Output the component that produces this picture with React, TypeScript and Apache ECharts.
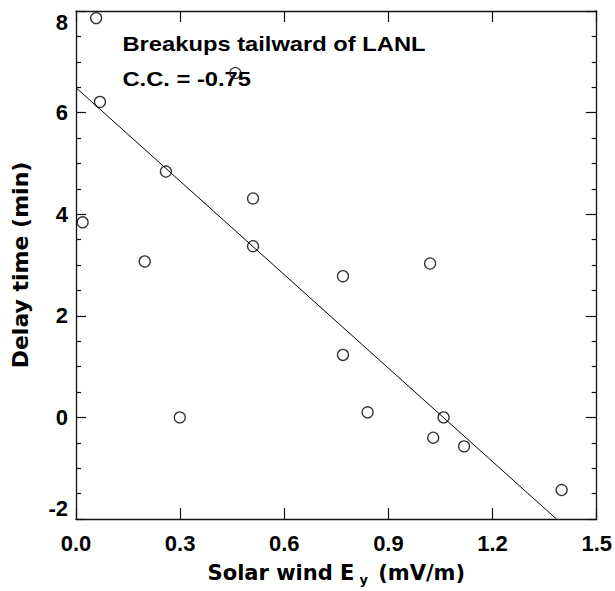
import React, { useEffect, useRef } from "react";
import * as echarts from "echarts";

// Scatter data
const solarWindEy = [0.058, 0.069, 0.019, 0.259, 0.198, 0.51, 0.51, 0.459, 0.769, 1.02, 0.299, 0.769, 0.84, 1.059, 1.029, 1.118, 1.399];
const delayTime = [7.86, 6.21, 3.84, 4.84, 3.07, 4.31, 3.37, 6.78, 2.78, 3.03, 0.0, 1.23, 0.1, 0.0, -0.4, -0.57, -1.43];

// Regression line end points
const fitLineEy = [0, 1.384];
const fitLineDelay = [6.49, -2];

// Axis ranges / ticks
const xRange = [0, 1.5];
const xStep = 0.3;
const yRange = [-2, 8];
const yStep = 2;

const annotationLines = ["Breakups tailward of LANL", "C.C. = -0.75"];

const ARIAL = '"Liberation Sans", Arial, Helvetica, sans-serif';
const DEJAVU = '"DejaVu Sans", "Liberation Sans", Arial, sans-serif';

export default function App() {
  const ref = useRef<HTMLDivElement>(null);

  useEffect(() => {
    if (!ref.current) return;
    const chart = echarts.init(ref.current, null, { renderer: "svg" });

    const axisLine = { show: true, onZero: false, lineStyle: { color: "#111", width: 1.3 } };

    const option: any = {
      animation: false,
      backgroundColor: "#fff",
      grid: { left: 76, top: 11, width: 521.7, height: 513, containLabel: false },
      xAxis: [
        {
          type: "value",
          position: "bottom",
          min: xRange[0],
          max: xRange[1],
          interval: xStep,
          axisLine,
          axisTick: { show: true, inside: true, length: 11, lineStyle: { color: "#111", width: 1.2 } },
          axisLabel: {
            show: true,
            margin: 13,
            fontSize: 22,
            fontWeight: "bold",
            fontFamily: ARIAL,
            color: "#000",
            formatter: (v: number) => v.toFixed(1),
          },
          splitLine: { show: false },
          name: "Solar wind E{sub|y} (mV/m)",
          nameLocation: "middle",
          nameGap: 41,
          nameTextStyle: {
            fontSize: 21,
            fontWeight: "bold",
            fontFamily: DEJAVU,
            color: "#000",
            lineHeight: 26,
            rich: {
              sub: {
                fontSize: 13,
                fontWeight: "bold",
                fontFamily: DEJAVU,
                color: "#000",
                verticalAlign: "bottom",
                lineHeight: 14,
                padding: [0, 3, 0, 5],
              },
            },
          },
        },
        {
          type: "value",
          position: "top",
          min: xRange[0],
          max: xRange[1],
          interval: xStep,
          axisLine,
          axisTick: { show: true, inside: true, length: 11, lineStyle: { color: "#111", width: 1.2 } },
          axisLabel: { show: false },
          splitLine: { show: false },
        },
      ],
      yAxis: [
        {
          type: "value",
          position: "left",
          min: yRange[0],
          max: yRange[1],
          interval: yStep,
          axisLine,
          axisTick: { show: true, inside: true, length: 10, lineStyle: { color: "#111", width: 1.2 } },
          minorTick: { show: true, splitNumber: 4, length: 5, lineStyle: { color: "#111", width: 1.2 } },
          axisLabel: {
            show: true,
            margin: 8,
            fontSize: 22,
            fontWeight: "bold",
            fontFamily: ARIAL,
            color: "#000",
            verticalAlignMinLabel: "bottom",
            verticalAlignMaxLabel: "top",
          },
          splitLine: { show: false },
          minorSplitLine: { show: false },
          name: "Delay time (min)",
          nameLocation: "middle",
          nameGap: 45,
          nameTextStyle: { fontSize: 22, fontWeight: "bold", fontFamily: DEJAVU, color: "#000" },
        },
        {
          type: "value",
          position: "right",
          min: yRange[0],
          max: yRange[1],
          interval: yStep,
          axisLine,
          axisTick: { show: true, inside: true, length: 11, lineStyle: { color: "#111", width: 1.2 } },
          minorTick: { show: true, splitNumber: 4, length: 5, lineStyle: { color: "#111", width: 1.2 } },
          axisLabel: { show: false },
          splitLine: { show: false },
          minorSplitLine: { show: false },
        },
      ],
      series: [
        {
          type: "line",
          xAxisIndex: 0,
          yAxisIndex: 0,
          data: fitLineEy.map((x, i) => [x, fitLineDelay[i]]),
          showSymbol: false,
          symbol: "none",
          lineStyle: { color: "#000", width: 1 },
          silent: true,
          z: 2,
        },
        {
          type: "scatter",
          xAxisIndex: 0,
          yAxisIndex: 0,
          data: solarWindEy.map((x, i) => [x, delayTime[i]]),
          symbol: "circle",
          symbolSize: 11,
          clip: false,
          itemStyle: { color: "rgba(0,0,0,0)", borderColor: "#000", borderWidth: 1.3 },
          z: 3,
        },
      ],
      graphic: annotationLines.map((t, i) => ({
        type: "text",
        x: 122.5,
        y: 33 + i * 35,
        scaleX: 1.13,
        z: 1,
        style: {
          text: t,
          fontSize: 21,
          fontWeight: "bold",
          fontFamily: ARIAL,
          fill: "#000",
          align: "left",
          verticalAlign: "top",
        },
      })),
    };

    chart.setOption(option);
    return () => chart.dispose();
  }, []);

  return (
    <div
      ref={ref}
      style={{ position: "fixed", left: 0, top: 0, width: 615, height: 591, background: "#fff" }}
    />
  );
}
